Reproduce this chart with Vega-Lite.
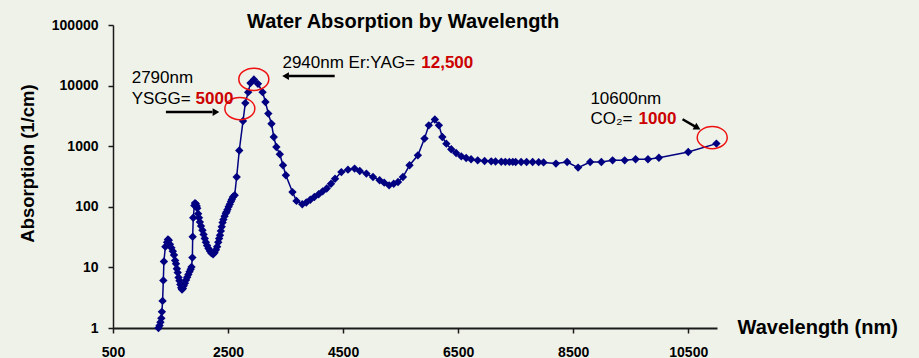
{
  "$schema": "https://vega.github.io/schema/vega-lite/v6.json",
  "width": 604,
  "height": 303,
  "autosize": {"type": "none"},
  "padding": {"left": 113, "top": 25, "right": 202, "bottom": 30},
  "background": "#eff2e9",
  "config": {"view": {"stroke": null}, "font": "Liberation Sans"},
  "title": {
    "text": "Water Absorption by Wavelength",
    "fontSize": 20,
    "fontWeight": "bold",
    "font": "Liberation Sans",
    "color": "#000000",
    "anchor": "start",
    "frame": "group",
    "dx": 134,
    "baseline": "alphabetic",
    "offset": 0,
    "dy": 30
  },
  "datasets": {
    "curve": [
      {"wl": 1290, "val": 1.0}, {"wl": 1310, "val": 1.1}, {"wl": 1325, "val": 1.25}, {"wl": 1340, "val": 1.45},
      {"wl": 1350, "val": 1.85}, {"wl": 1362, "val": 2.8}, {"wl": 1375, "val": 6.1}, {"wl": 1385, "val": 12.5},
      {"wl": 1410, "val": 22}, {"wl": 1440, "val": 26}, {"wl": 1455, "val": 29}, {"wl": 1470, "val": 28},
      {"wl": 1490, "val": 24}, {"wl": 1515, "val": 21}, {"wl": 1540, "val": 18.5}, {"wl": 1560, "val": 16},
      {"wl": 1580, "val": 13}, {"wl": 1595, "val": 11.5}, {"wl": 1610, "val": 9.5}, {"wl": 1625, "val": 8.2},
      {"wl": 1640, "val": 6.8}, {"wl": 1655, "val": 6.0}, {"wl": 1670, "val": 5.2}, {"wl": 1685, "val": 4.6},
      {"wl": 1700, "val": 4.3}, {"wl": 1715, "val": 4.5}, {"wl": 1730, "val": 5.0}, {"wl": 1750, "val": 5.5},
      {"wl": 1770, "val": 6.2}, {"wl": 1790, "val": 6.9}, {"wl": 1810, "val": 7.6}, {"wl": 1830, "val": 8.5},
      {"wl": 1850, "val": 9.3}, {"wl": 1865, "val": 10.2}, {"wl": 1880, "val": 14.5}, {"wl": 1885, "val": 32},
      {"wl": 1895, "val": 66}, {"wl": 1915, "val": 105}, {"wl": 1925, "val": 115}, {"wl": 1940, "val": 112},
      {"wl": 1955, "val": 103}, {"wl": 1965, "val": 95}, {"wl": 1980, "val": 77}, {"wl": 1995, "val": 66},
      {"wl": 2010, "val": 56}, {"wl": 2030, "val": 48}, {"wl": 2055, "val": 41}, {"wl": 2075, "val": 35},
      {"wl": 2095, "val": 30}, {"wl": 2115, "val": 26}, {"wl": 2135, "val": 23}, {"wl": 2160, "val": 20.5},
      {"wl": 2185, "val": 18.6}, {"wl": 2210, "val": 17.2}, {"wl": 2240, "val": 16.5}, {"wl": 2265, "val": 17.5},
      {"wl": 2290, "val": 19.5}, {"wl": 2310, "val": 22}, {"wl": 2330, "val": 26}, {"wl": 2345, "val": 30},
      {"wl": 2360, "val": 34}, {"wl": 2375, "val": 40}, {"wl": 2390, "val": 47}, {"wl": 2405, "val": 55},
      {"wl": 2420, "val": 62}, {"wl": 2440, "val": 70}, {"wl": 2460, "val": 78}, {"wl": 2475, "val": 83},
      {"wl": 2490, "val": 90}, {"wl": 2510, "val": 100}, {"wl": 2530, "val": 110}, {"wl": 2550, "val": 122},
      {"wl": 2565, "val": 132}, {"wl": 2585, "val": 145}, {"wl": 2615, "val": 155}, {"wl": 2650, "val": 310},
      {"wl": 2695, "val": 850}, {"wl": 2760, "val": 2600}, {"wl": 2800, "val": 5150}, {"wl": 2850, "val": 7800},
      {"wl": 2890, "val": 11000}, {"wl": 2950, "val": 12600}, {"wl": 3020, "val": 10700}, {"wl": 3100, "val": 7800},
      {"wl": 3150, "val": 5360}, {"wl": 3200, "val": 3450}, {"wl": 3255, "val": 2350}, {"wl": 3295, "val": 1420},
      {"wl": 3340, "val": 970}, {"wl": 3400, "val": 735}, {"wl": 3455, "val": 484}, {"wl": 3505, "val": 331},
      {"wl": 3620, "val": 175}, {"wl": 3690, "val": 125}, {"wl": 3790, "val": 110}, {"wl": 3860, "val": 118},
      {"wl": 3930, "val": 131}, {"wl": 4000, "val": 145}, {"wl": 4075, "val": 161}, {"wl": 4145, "val": 180},
      {"wl": 4215, "val": 200}, {"wl": 4290, "val": 240}, {"wl": 4360, "val": 290}, {"wl": 4470, "val": 374},
      {"wl": 4585, "val": 410}, {"wl": 4700, "val": 427}, {"wl": 4790, "val": 390}, {"wl": 4905, "val": 353},
      {"wl": 5020, "val": 310}, {"wl": 5135, "val": 274}, {"wl": 5215, "val": 250}, {"wl": 5300, "val": 226},
      {"wl": 5380, "val": 240}, {"wl": 5455, "val": 257}, {"wl": 5540, "val": 310}, {"wl": 5655, "val": 484},
      {"wl": 5800, "val": 707}, {"wl": 5915, "val": 1334}, {"wl": 5990, "val": 2210}, {"wl": 6095, "val": 2760},
      {"wl": 6165, "val": 2210}, {"wl": 6225, "val": 1420}, {"wl": 6295, "val": 1100}, {"wl": 6380, "val": 890},
      {"wl": 6465, "val": 773}, {"wl": 6555, "val": 681}, {"wl": 6640, "val": 638}, {"wl": 6725, "val": 608},
      {"wl": 6840, "val": 585}, {"wl": 6960, "val": 570}, {"wl": 7075, "val": 563}, {"wl": 7150, "val": 560},
      {"wl": 7250, "val": 555}, {"wl": 7320, "val": 552}, {"wl": 7390, "val": 550}, {"wl": 7450, "val": 550},
      {"wl": 7500, "val": 549}, {"wl": 7595, "val": 549}, {"wl": 7690, "val": 549}, {"wl": 7795, "val": 549},
      {"wl": 7900, "val": 545}, {"wl": 7985, "val": 540}, {"wl": 8200, "val": 517}, {"wl": 8395, "val": 549},
      {"wl": 8585, "val": 444}, {"wl": 8795, "val": 549}, {"wl": 8990, "val": 549}, {"wl": 9185, "val": 585},
      {"wl": 9395, "val": 585}, {"wl": 9585, "val": 608}, {"wl": 9800, "val": 608}, {"wl": 9990, "val": 646},
      {"wl": 10500, "val": 802}, {"wl": 10990, "val": 1104}
    ],
    "rings": [
      {"wl": 2705, "val": 4170},
      {"wl": 2948, "val": 12700},
      {"wl": 10917, "val": 1387}
    ],
    "arrows": [
      {"wl": 1420, "val": 3666, "wl2": 2230, "val2": 3666},
      {"wl": 4354, "val": 14400, "wl2": 3560, "val2": 14400},
      {"wl": 10401, "val": 2780, "wl2": 10630, "val2": 2080}
    ],
    "heads": [
      {"wl": 2290, "val": 3666, "shape": "triangle-right", "ang": 0},
      {"wl": 3500, "val": 14400, "shape": "triangle-left", "ang": 0},
      {"wl": 10660, "val": 2010, "shape": "triangle-right", "ang": 29}
    ],
    "labels": [
      {"wl": 825, "val": 13340, "txt": "2790nm"},
      {"wl": 825, "val": 6100, "txt": "YSGG= "},
      {"wl": 3446, "val": 23600, "txt": "2940nm Er:YAG= "},
      {"wl": 8799, "val": 5943, "txt": "10600nm"},
      {"wl": 8799, "val": 2853, "txt": "CO₂= "}
    ],
    "values": [
      {"wl": 1936, "val": 6100, "txt": "5000"},
      {"wl": 5859, "val": 23600, "txt": "12,500"},
      {"wl": 9637, "val": 2853, "txt": "1000"}
    ]
  },
  "encoding": {
    "x": {
      "field": "wl",
      "type": "quantitative",
      "scale": {"domain": [500, 11000], "nice": false, "zero": false},
      "axis": {
        "values": [500, 2500, 4500, 6500, 8500, 10500],
        "format": "d",
        "grid": false,
        "domainColor": "#1a1a1a",
        "domainWidth": 2,
        "tickColor": "#1a1a1a",
        "tickWidth": 1.5,
        "tickSize": 5,
        "labelFont": "Liberation Sans",
        "labelFontSize": 14,
        "labelFontWeight": "bold",
        "labelColor": "#000000",
        "labelPadding": 12,
        "labelFlush": false,
        "title": "Wavelength (nm)",
        "titleFont": "Liberation Sans",
        "titleFontSize": 20,
        "titleFontWeight": "bold",
        "titleColor": "#000000",
        "titleAlign": "left",
        "titleBaseline": "alphabetic",
        "titleX": 624,
        "titleY": 5
      }
    },
    "y": {
      "field": "val",
      "type": "quantitative",
      "scale": {"type": "log", "domain": [1, 100000], "nice": false},
      "axis": {
        "values": [1, 10, 100, 1000, 10000, 100000],
        "format": "d",
        "grid": false,
        "domainColor": "#1a1a1a",
        "domainWidth": 1.5,
        "tickColor": "#1a1a1a",
        "tickWidth": 1.5,
        "tickSize": 5,
        "labelFont": "Liberation Sans",
        "labelFontSize": 14,
        "labelFontWeight": "bold",
        "labelColor": "#000000",
        "labelPadding": 10,
        "labelFlush": false,
        "title": "Absorption (1/cm)",
        "titleFont": "Liberation Sans",
        "titleFontSize": 18.5,
        "titleFontWeight": "bold",
        "titleColor": "#000000",
        "titleAngle": -90,
        "titleAlign": "center",
        "titleBaseline": "alphabetic",
        "titleX": -80,
        "titleY": 138
      }
    }
  },
  "layer": [
    {
      "data": {"name": "curve"},
      "mark": {"type": "line", "color": "#000080", "strokeWidth": 1.5}
    },
    {
      "data": {"name": "curve"},
      "mark": {"type": "point", "shape": "diamond", "filled": true, "color": "#000080", "size": 70, "opacity": 1}
    },
    {
      "data": {"name": "rings"},
      "mark": {
        "type": "point",
        "shape": "M-1,0A1,0.74,0,1,0,1,0A1,0.74,0,1,0,-1,0Z",
        "filled": false,
        "stroke": "#ee1111",
        "strokeWidth": 1.5,
        "size": 900,
        "opacity": 1
      }
    },
    {
      "data": {"name": "arrows"},
      "mark": {"type": "rule", "color": "#000000", "strokeWidth": 2.5},
      "encoding": {
        "x2": {"field": "wl2"},
        "y2": {"field": "val2"}
      }
    },
    {
      "data": {"name": "heads"},
      "mark": {"type": "point", "filled": true, "color": "#000000", "size": 60, "opacity": 1},
      "encoding": {
        "shape": {"field": "shape", "type": "nominal", "scale": null},
        "angle": {"field": "ang", "type": "quantitative", "scale": null}
      }
    },
    {
      "data": {"name": "labels"},
      "mark": {"type": "text", "align": "left", "baseline": "middle", "font": "Liberation Sans", "fontSize": 17, "color": "#000000"},
      "encoding": {"text": {"field": "txt"}}
    },
    {
      "data": {"name": "values"},
      "mark": {"type": "text", "align": "left", "baseline": "middle", "font": "Liberation Sans", "fontSize": 17, "fontWeight": "bold", "color": "#cc0000"},
      "encoding": {"text": {"field": "txt"}}
    }
  ]
}
